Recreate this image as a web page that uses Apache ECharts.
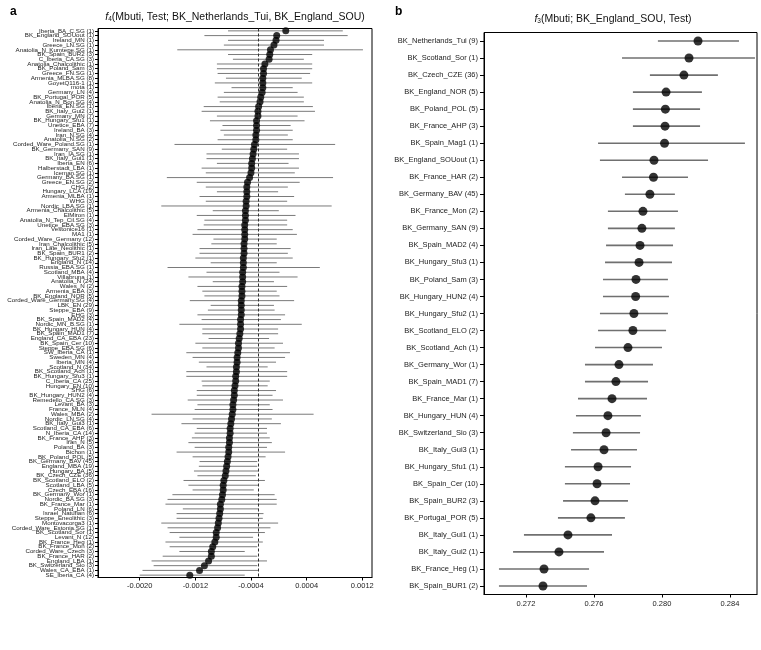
<!DOCTYPE html>
<html>
<head>
<meta charset="utf-8">
<script src="https://cdn.jsdelivr.net/npm/echarts@6/dist/echarts.min.js"></script>
<style>html,body{margin:0;padding:0;background:#fff}#c{width:761px;height:650px}</style>
</head>
<body>
<div id="c"></div>
<script>
// ---------- Panel a data ----------
const catsA = [
"Iberia_BA_C.SG (1)","BK_England_SOUout (1)","Ireland_MN (1)","Greece_LN.SG (1)","Anatolia_N_Kumtepe.SG (1)",
"BK_Spain_BUR2 (3)","C_Iberia_CA.SG (3)","Anatolia_Chalcolithic (1)","BK_Poland_Sam (3)","Greece_FN.SG (1)",
"Armenia_MLBA.SG (8)","GoyetQ116-1 (1)","mota (1)","Germany_LN (4)","BK_Portugal_POR (5)",
"Anatolia_N_Bon.SG (4)","Iberia_EN.SG (1)","BK_Italy_Gui2 (1)","Germany_MN (7)","BK_Hungary_Sfu1 (1)",
"Unetice_EBA (7)","Ireland_BA (3)","Iran_N.SG (4)","Anatolia_N.SG (2)","Corded_Ware_Poland.SG (1)",
"BK_Germany_SAN (9)","Iran_IA.SG (1)","BK_Italy_Gui1 (1)","Iberia_EN (6)","Halberstadt_LBA (1)",
"Iceman.SG (1)","Germany_BA.SG (1)","Greece_EN.SG (2)","CHG (2)","Hungary_LCA (19)",
"Armenia_MLBA (1)","WHG (3)","Nordic_LBA.SG (1)","Armenia_Chalcolithic (5)","ElMiron (1)",
"Anatolia_N_Tep_Cil.SG (4)","Unetice_EBA.SG (3)","Vestonice16 (1)","MA1 (1)","Corded_Ware_Germany (12)",
"Iran_Chalcolithic (5)","Iran_Late_Neolithic (1)","BK_Spain_BUR1 (2)","BK_Hungary_Sfu2 (1)","England_N (14)",
"Russia_EBA.SG (1)","Scotland_MBA (4)","Villabruna (1)","Anatolia_N (24)","Wales_N (2)",
"Armenia_EBA (3)","BK_England_NOR (5)","Corded_Ware_Germany.SG (4)","LBK_EN (29)","Steppe_EBA (9)",
"EHG (3)","BK_Spain_MAD2 (4)","Nordic_MN_B.SG (1)","BK_Hungary_HUN (4)","BK_Spain_MAD1 (7)",
"England_CA_EBA (23)","BK_Spain_Cer (10)","Steppe_EBA.SG (6)","SW_Iberia_CA (1)","Sweden_MN (4)",
"Iberia_MN (4)","Scotland_N (34)","BK_Scotland_Ach (1)","BK_Hungary_Sfu3 (1)","C_Iberia_CA (25)",
"Hungary_EN (10)","SHG (6)","BK_Hungary_HUN2 (4)","Remedello_CA.SG (3)","Levant_BA (3)",
"France_MLN (4)","Wales_MBA (2)","Nordic_LN.SG (4)","BK_Italy_Gui3 (1)","Scotland_CA_EBA (6)",
"N_Iberia_CA (14)","BK_France_AHP (3)","Iran_N (5)","Poland_BA (3)","Bichon (1)",
"BK_Poland_POL (5)","BK_Germany_BAV (45)","England_MBA (19)","Hungary_BA (5)","BK_Czech_CZE (36)",
"BK_Scotland_ELO (2)","Scotland_LBA (5)","Czech_EBA (16)","BK_Germany_Wor (1)","Nordic_BA.SG (3)",
"BK_France_Mar (1)","Poland_LN (6)","Israel_Natufian (6)","Steppe_Eneolithic (3)","Montovacorga3 (1)",
"Corded_Ware_Estonia.SG (1)","BK_Scotland_Sor (1)","Levant_N (12)","BK_France_Heg (1)","BK_France_Mon (2)",
"Corded_Ware_Czech (3)","BK_France_HAR (2)","England_LBA (1)","BK_Switzerland_Sio (3)","Wales_CA_EBA (1)",
"SE_Iberia_CA (4)"
];
const meanA = [
0.00010,-0.00003,-0.00004,-0.00007,-0.00012,
-0.00013,-0.00014,-0.00020,-0.00022,-0.00022,
-0.00023,-0.00023,-0.00023,-0.00024,-0.00026,
-0.00027,-0.00029,-0.00030,-0.00030,-0.00032,
-0.00032,-0.00032,-0.00033,-0.00033,-0.00035,
-0.00036,-0.00037,-0.00038,-0.00039,-0.00039,
-0.00040,-0.00042,-0.00045,-0.00046,-0.00046,
-0.00046,-0.00047,-0.00047,-0.00048,-0.00048,
-0.00048,-0.00049,-0.00049,-0.00049,-0.00049,
-0.00050,-0.00050,-0.00050,-0.00051,-0.00051,
-0.00051,-0.00052,-0.00052,-0.00052,-0.00053,
-0.00053,-0.00053,-0.00054,-0.00054,-0.00054,
-0.00054,-0.00055,-0.00055,-0.00055,-0.00056,
-0.00057,-0.00058,-0.00058,-0.00059,-0.00060,
-0.00060,-0.00061,-0.00061,-0.00062,-0.00062,
-0.00063,-0.00064,-0.00064,-0.00065,-0.00066,
-0.00066,-0.00067,-0.00068,-0.00069,-0.00070,
-0.00070,-0.00071,-0.00071,-0.00072,-0.00072,
-0.00073,-0.00074,-0.00075,-0.00076,-0.00077,
-0.00079,-0.00080,-0.00080,-0.00081,-0.00082,
-0.00084,-0.00084,-0.00085,-0.00086,-0.00087,
-0.00088,-0.00090,-0.00090,-0.00092,-0.00095,
-0.00097,-0.00097,-0.00101,-0.00107,-0.00114,
-0.00128
];
const loA = [
-0.00073,-0.00107,-0.00073,-0.00079,-0.00146,
-0.00073,-0.00066,-0.00089,-0.00089,-0.00088,
-0.00076,-0.00092,-0.00068,-0.00079,-0.00088,
-0.00085,-0.00108,-0.00111,-0.00089,-0.00099,
-0.00081,-0.00084,-0.00079,-0.00088,-0.00150,
-0.00082,-0.00104,-0.00104,-0.00089,-0.00111,
-0.00105,-0.00161,-0.00118,-0.00105,-0.00089,
-0.00114,-0.00105,-0.00169,-0.00095,-0.00118,
-0.00107,-0.00108,-0.00117,-0.00124,-0.00094,
-0.00097,-0.00114,-0.00114,-0.00120,-0.00098,
-0.00160,-0.00104,-0.00130,-0.00095,-0.00117,
-0.00110,-0.00107,-0.00128,-0.00098,-0.00102,
-0.00117,-0.00111,-0.00143,-0.00110,-0.00110,
-0.00101,-0.00120,-0.00110,-0.00133,-0.00124,
-0.00115,-0.00104,-0.00133,-0.00133,-0.00111,
-0.00110,-0.00118,-0.00118,-0.00131,-0.00117,
-0.00121,-0.00183,-0.00124,-0.00140,-0.00118,
-0.00121,-0.00125,-0.00130,-0.00121,-0.00147,
-0.00124,-0.00114,-0.00115,-0.00122,-0.00117,
-0.00137,-0.00130,-0.00124,-0.00153,-0.00160,
-0.00163,-0.00138,-0.00147,-0.00147,-0.00169,
-0.00160,-0.00157,-0.00143,-0.00163,-0.00157,
-0.00143,-0.00167,-0.00183,-0.00180,-0.00196,
-0.00200
];
const hiA = [
0.00092,0.00099,0.00065,0.00065,0.00121,
0.00048,0.00036,0.00048,0.00048,0.00045,
0.00033,0.00048,0.00020,0.00027,0.00036,
0.00036,0.00049,0.00052,0.00027,0.00037,
0.00017,0.00020,0.00013,0.00020,0.00081,
0.00012,0.00029,0.00029,0.00014,0.00029,
0.00023,0.00078,0.00030,0.00013,-0.00001,
0.00022,0.00012,0.00076,0.00000,0.00024,
0.00012,0.00012,0.00020,0.00026,-0.00003,
-0.00003,0.00017,0.00013,0.00020,-0.00003,
0.00059,0.00001,0.00027,-0.00007,0.00012,
-0.00003,0.00001,0.00022,-0.00007,-0.00006,
0.00009,0.00003,0.00033,-0.00001,-0.00001,
-0.00014,0.00006,-0.00006,0.00016,0.00009,
-0.00004,-0.00016,0.00012,0.00012,-0.00013,
-0.00016,-0.00004,-0.00009,0.00006,-0.00013,
-0.00009,0.00050,-0.00010,0.00003,-0.00017,
-0.00017,-0.00013,-0.00010,-0.00017,0.00009,
-0.00019,-0.00031,-0.00031,-0.00029,-0.00033,
-0.00020,-0.00029,-0.00036,-0.00006,-0.00003,
-0.00003,-0.00029,-0.00022,-0.00023,-0.00001,
-0.00012,-0.00020,-0.00037,-0.00023,-0.00031,
-0.00049,-0.00031,-0.00017,-0.00031,-0.00030,
-0.00049
];
const ticksA = [-0.0020, -0.0012, -0.0004, 0.0004, 0.0012];
const refLineA = -0.00029;

// ---------- Panel b data ----------
const catsB = [
"BK_Netherlands_Tui (9)","BK_Scotland_Sor (1)","BK_Czech_CZE (36)","BK_England_NOR (5)","BK_Poland_POL (5)",
"BK_France_AHP (3)","BK_Spain_Mag1 (1)","BK_England_SOUout (1)","BK_France_HAR (2)","BK_Germany_BAV (45)",
"BK_France_Mon (2)","BK_Germany_SAN (9)","BK_Spain_MAD2 (4)","BK_Hungary_Sfu3 (1)","BK_Poland_Sam (3)",
"BK_Hungary_HUN2 (4)","BK_Hungary_Sfu2 (1)","BK_Scotland_ELO (2)","BK_Scotland_Ach (1)","BK_Germany_Wor (1)",
"BK_Spain_MAD1 (7)","BK_France_Mar (1)","BK_Hungary_HUN (4)","BK_Switzerland_Sio (3)","BK_Italy_Gui3 (1)",
"BK_Hungary_Sfu1 (1)","BK_Spain_Cer (10)","BK_Spain_BUR2 (3)","BK_Portugal_POR (5)","BK_Italy_Gui1 (1)",
"BK_Italy_Gui2 (1)","BK_France_Heg (1)","BK_Spain_BUR1 (2)"
];
const meanB = [
0.28212,0.28159,0.28129,0.28024,0.28020,
0.28018,0.28015,0.27953,0.27950,0.27929,
0.27888,0.27882,0.27871,0.27865,0.27847,
0.27845,0.27835,0.27829,0.27800,0.27747,
0.27729,0.27706,0.27682,0.27671,0.27659,
0.27624,0.27618,0.27606,0.27582,0.27447,
0.27394,0.27306,0.27300
];
const loB = [
0.27976,0.27765,0.27929,0.27829,0.27829,
0.27829,0.27624,0.27635,0.27765,0.27782,
0.27682,0.27682,0.27671,0.27665,0.27653,
0.27653,0.27635,0.27624,0.27606,0.27547,
0.27547,0.27506,0.27494,0.27476,0.27465,
0.27429,0.27429,0.27418,0.27388,0.27188,
0.27124,0.27041,0.27041
];
const hiB = [
0.28453,0.28547,0.28329,0.28235,0.28224,
0.28224,0.28488,0.28271,0.28153,0.28076,
0.28094,0.28076,0.28065,0.28059,0.28035,
0.28041,0.28035,0.28024,0.28000,0.27947,
0.27918,0.27912,0.27876,0.27871,0.27853,
0.27818,0.27812,0.27800,0.27782,0.27706,
0.27659,0.27571,0.27559
];
const ticksB = [0.272, 0.276, 0.280, 0.284];

// ---------- chart ----------
const FONT = 'Liberation Sans';
const chart = echarts.init(document.getElementById('c'), null, {renderer: 'canvas'});

function barRenderer(color, width) {
  return function (params, api) {
    const a = api.coord([api.value(0), api.value(2)]);
    const b = api.coord([api.value(1), api.value(2)]);
    return {type: 'line', shape: {x1: a[0], y1: a[1], x2: b[0], y2: b[1]},
            style: {stroke: color, lineWidth: width}};
  };
}
const barsA = catsA.map((c, i) => [loA[i], hiA[i], i]);
const dotsA = catsA.map((c, i) => [meanA[i], i]);
const barsB = catsB.map((c, i) => [loB[i], hiB[i], i]);
const dotsB = catsB.map((c, i) => [meanB[i], i]);

const titleRich = {
  f: {fontFamily: FONT, fontStyle: 'italic', fontWeight: 'normal', fontSize: 10.5, fill: '#111'},
  s: {fontFamily: FONT, fontWeight: 'normal', fontSize: 6.5, fill: '#111', padding: [5, 0, 0, 0]},
  n: {fontFamily: FONT, fontWeight: 'normal', fontSize: 10.5, fill: '#111'}
};

chart.setOption({
  animation: false,
  backgroundColor: '#fff',
  title: [
    {text: 'a', left: 5, top: 1, textStyle: {fontFamily: FONT, fontWeight: 'bold', fontSize: 12, color: '#000'}},
    {text: 'b', left: 390, top: 1, textStyle: {fontFamily: FONT, fontWeight: 'bold', fontSize: 12, color: '#000'}}
  ],
  graphic: [
    {type: 'text', x: 235, y: 17, style: {text: '{f|f}{s|4}{n|(Mbuti, Test; BK_Netherlands_Tui, BK_England_SOU)}',
      rich: titleRich, align: 'center', verticalAlign: 'middle'}},
    {type: 'text', x: 613, y: 19, style: {text: '{f|f}{s|3}{n|(Mbuti; BK_England_SOU, Test)}',
      rich: titleRich, align: 'center', verticalAlign: 'middle'}}
  ],
  grid: [
    {left: 98, right: 389, top: 28.5, height: 549, show: true, borderColor: '#000', borderWidth: 1, containLabel: false},
    {left: 484, right: 4, top: 32.5, height: 562, show: true, borderColor: '#000', borderWidth: 1, containLabel: false}
  ],
  xAxis: [
    {type: 'value', gridIndex: 0, min: -0.0026, max: 0.00134, splitLine: {show: false},
     axisLine: {show: true, onZero: false, lineStyle: {color: '#000'}},
     axisTick: {show: true, length: 3, customValues: ticksA, lineStyle: {color: '#000'}},
     axisLabel: {customValues: ticksA, fontFamily: FONT, fontSize: 7.5, color: '#222', margin: 4,
                 formatter: v => v.toFixed(4)}},
    {type: 'value', gridIndex: 1, min: 0.26953, max: 0.28559, splitLine: {show: false},
     axisLine: {show: true, onZero: false, lineStyle: {color: '#000'}},
     axisTick: {show: true, length: 3, customValues: ticksB, lineStyle: {color: '#000'}},
     axisLabel: {customValues: ticksB, fontFamily: FONT, fontSize: 7.5, color: '#222', margin: 5,
                 formatter: v => v.toFixed(3)}}
  ],
  yAxis: [
    {type: 'category', gridIndex: 0, data: catsA, inverse: true,
     axisLine: {show: true, onZero: false, lineStyle: {color: '#000'}},
     axisTick: {show: true, length: 3, alignWithLabel: true, interval: 0, lineStyle: {color: '#000'}},
     axisLabel: {interval: 0, fontFamily: FONT, fontSize: 6.2, color: '#222', margin: 4}},
    {type: 'category', gridIndex: 1, data: catsB, inverse: true,
     axisLine: {show: true, onZero: false, lineStyle: {color: '#000'}},
     axisTick: {show: true, length: 4, alignWithLabel: true, interval: 0, lineStyle: {color: '#000'}},
     axisLabel: {interval: 0, fontFamily: FONT, fontSize: 7.5, color: '#222', margin: 6}}
  ],
  series: [
    {type: 'custom', xAxisIndex: 0, yAxisIndex: 0, data: barsA, encode: {x: [0, 1], y: 2},
     renderItem: barRenderer('#7a7a7a', 1), silent: true, z: 2},
    {type: 'scatter', xAxisIndex: 0, yAxisIndex: 0, data: dotsA, symbol: 'circle', symbolSize: 7,
     itemStyle: {color: '#000'}, z: 4,
     markLine: {silent: true, symbol: 'none', precision: 6, label: {show: false},
                lineStyle: {type: [3, 2], color: '#333', width: 1},
                data: [{xAxis: refLineA}]}},
    {type: 'custom', xAxisIndex: 1, yAxisIndex: 1, data: barsB, encode: {x: [0, 1], y: 2},
     renderItem: barRenderer('#707070', 1.6), silent: true, z: 2},
    {type: 'scatter', xAxisIndex: 1, yAxisIndex: 1, data: dotsB, symbol: 'circle', symbolSize: 9,
     itemStyle: {color: '#000'}, z: 4}
  ]
});
</script>
</body>
</html>
